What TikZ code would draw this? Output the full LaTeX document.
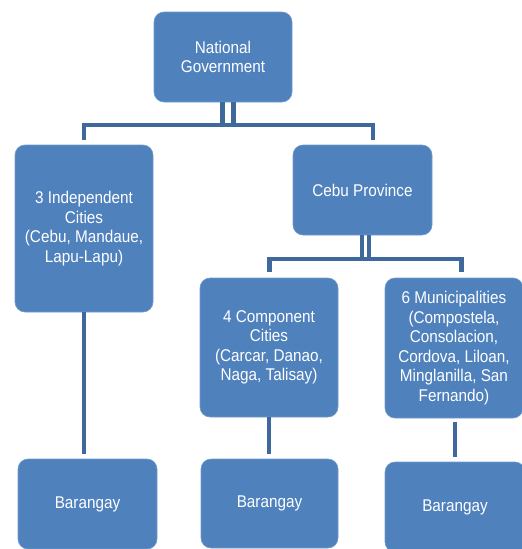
\documentclass[tikz,border=0pt]{standalone}
\usepackage{fontspec}
\setmainfont{Liberation Sans}[FakeStretch=0.9]
\definecolor{boxblue}{HTML}{4F81BD}
\definecolor{linkblue}{HTML}{3F699C}
\begin{document}
\begin{tikzpicture}[x=1pt,y=-1pt,
  orgbox/.style={fill=boxblue, draw=boxblue!80!white, line width=0.6pt,
    rounded corners=10pt, text=white, align=center, inner sep=2pt,
    font=\fontsize{17}{19.5}\selectfont},
  conn/.style={draw=linkblue, line width=4.2pt, line join=miter}]
\useasboundingbox (0,0) rectangle (522,549);
\clip (0,0) rectangle (522,549);

% boxes
\node[orgbox, minimum width=138pt, minimum height=90pt] (nat) at (223,57) {National\\Government};
\node[orgbox, minimum width=138pt, minimum height=167pt] (ind) at (84,228.5) {3 Independent\\Cities\\(Cebu, Mandaue,\\Lapu-Lapu)};
\node[orgbox, minimum width=139pt, minimum height=90pt] (cebu) at (362.5,190) {Cebu Province};
\node[orgbox, minimum width=138pt, minimum height=139pt] (comp) at (269,347.5) {4 Component\\Cities\\(Carcar, Danao,\\Naga, Talisay)};
\node[orgbox, minimum width=138pt, minimum height=140pt] (muni) at (454,348) {6 Municipalities\\(Compostela,\\Consolacion,\\Cordova, Liloan,\\Minglanilla, San\\Fernando)};
\node[orgbox, minimum width=139pt, minimum height=90pt] (b1) at (87.5,504) {Barangay};
\node[orgbox, minimum width=137pt, minimum height=89pt] (b2) at (269.5,503.5) {Barangay};
\node[orgbox, minimum width=140pt, minimum height=90pt] (b3) at (455,507) {Barangay};

% bus junctions
\coordinate (j1) at (84,125);
\coordinate (j2) at (373,125);
\coordinate (k1) at (269.5,259);
\coordinate (k2) at (461.5,259);
\path (nat.south) ++(-0.5,0) coordinate (natL) ++(11,0) coordinate (natR);
\path (cebu.south) ++(-0.5,0) coordinate (cebL) ++(7,0) coordinate (cebR);

% national level
\draw[conn] (natL) -- (natL |- j1);
\draw[conn] (natR) -- (natR |- j1);
\draw[conn, shorten <=5pt, shorten >=5pt] (j1 |- ind.north) -- (j1) -- (j2) -- (j2 |- cebu.north);

% province level
\draw[conn] (cebL) -- (cebL |- k1);
\draw[conn] (cebR) -- (cebR |- k1);
\draw[conn, shorten <=6pt, shorten >=6pt] (k1 |- comp.north) -- (k1) -- (k2) -- (k2 |- muni.north);

% down to barangays
\draw[conn, shorten >=5pt] (ind.south) -- (ind.south |- b1.north);
\draw[conn, shorten >=5pt] (comp.south) -- (comp.south |- b2.north);
\draw[conn, shorten <=4pt, shorten >=5pt] (muni.south -| b3.north) -- (b3.north);
\end{tikzpicture}
\end{document}
